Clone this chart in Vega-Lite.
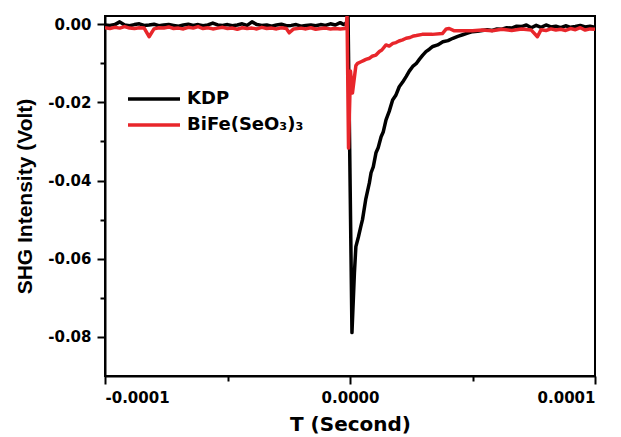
{
  "$schema": "https://vega.github.io/schema/vega-lite/v6.json",
  "width": 490,
  "height": 360,
  "autosize": {"type": "none"},
  "padding": {"left": 105, "top": 16, "right": 26, "bottom": 61},
  "background": "white",
  "config": {
    "view": {"stroke": "black", "strokeWidth": 2},
    "font": "DejaVu Sans",
    "axis": {
      "grid": false,
      "domainColor": "black",
      "domainWidth": 2,
      "tickColor": "black",
      "tickWidth": 2,
      "labelColor": "black",
      "titleColor": "black",
      "labelFont": "DejaVu Sans",
      "labelFontWeight": "bold",
      "labelFontSize": 15,
      "titleFontWeight": "bold"
    }
  },
  "data": {
    "values": [
      {"t": -0.0001, "v": -0.0002, "s": "KDP"},
      {"t": -9.8e-5, "v": -0.0003, "s": "KDP"},
      {"t": -9.6e-5, "v": -0.0001, "s": "KDP"},
      {"t": -9.4e-5, "v": 0.0006, "s": "KDP"},
      {"t": -9.2e-5, "v": -0.0002, "s": "KDP"},
      {"t": -9.0e-5, "v": -0.0004, "s": "KDP"},
      {"t": -8.8e-5, "v": -0.0001, "s": "KDP"},
      {"t": -8.6e-5, "v": 0.0001, "s": "KDP"},
      {"t": -8.4e-5, "v": -0.0003, "s": "KDP"},
      {"t": -8.2e-5, "v": -0.0002, "s": "KDP"},
      {"t": -8.0e-5, "v": 0.0, "s": "KDP"},
      {"t": -7.8e-5, "v": -0.0004, "s": "KDP"},
      {"t": -7.6e-5, "v": -0.0002, "s": "KDP"},
      {"t": -7.4e-5, "v": -0.0001, "s": "KDP"},
      {"t": -7.2e-5, "v": -0.0003, "s": "KDP"},
      {"t": -7.0e-5, "v": -0.0005, "s": "KDP"},
      {"t": -6.8e-5, "v": -0.0002, "s": "KDP"},
      {"t": -6.6e-5, "v": 0.0, "s": "KDP"},
      {"t": -6.4e-5, "v": -0.0003, "s": "KDP"},
      {"t": -6.2e-5, "v": -0.0001, "s": "KDP"},
      {"t": -6.0e-5, "v": -0.0004, "s": "KDP"},
      {"t": -5.8e-5, "v": -0.0002, "s": "KDP"},
      {"t": -5.6e-5, "v": 0.0003, "s": "KDP"},
      {"t": -5.4e-5, "v": -0.0002, "s": "KDP"},
      {"t": -5.2e-5, "v": -0.0003, "s": "KDP"},
      {"t": -5.0e-5, "v": -0.0001, "s": "KDP"},
      {"t": -4.8e-5, "v": -0.0004, "s": "KDP"},
      {"t": -4.6e-5, "v": -0.0002, "s": "KDP"},
      {"t": -4.4e-5, "v": 0.0001, "s": "KDP"},
      {"t": -4.2e-5, "v": -0.0003, "s": "KDP"},
      {"t": -4.0e-5, "v": 0.0006, "s": "KDP"},
      {"t": -3.8e-5, "v": -0.0001, "s": "KDP"},
      {"t": -3.6e-5, "v": -0.0003, "s": "KDP"},
      {"t": -3.4e-5, "v": -0.0002, "s": "KDP"},
      {"t": -3.2e-5, "v": -0.0005, "s": "KDP"},
      {"t": -3.0e-5, "v": -0.0002, "s": "KDP"},
      {"t": -2.8e-5, "v": 0.0, "s": "KDP"},
      {"t": -2.6e-5, "v": -0.0004, "s": "KDP"},
      {"t": -2.4e-5, "v": -0.0003, "s": "KDP"},
      {"t": -2.2e-5, "v": -0.0001, "s": "KDP"},
      {"t": -2.0e-5, "v": -0.0005, "s": "KDP"},
      {"t": -1.8e-5, "v": -0.0003, "s": "KDP"},
      {"t": -1.6e-5, "v": -0.0002, "s": "KDP"},
      {"t": -1.4e-5, "v": -0.0004, "s": "KDP"},
      {"t": -1.2e-5, "v": -0.0001, "s": "KDP"},
      {"t": -1.0e-5, "v": -0.0003, "s": "KDP"},
      {"t": -8.0e-6, "v": 0.0001, "s": "KDP"},
      {"t": -6.0e-6, "v": -0.0002, "s": "KDP"},
      {"t": -4.0e-6, "v": 0.0004, "s": "KDP"},
      {"t": -2.5e-6, "v": -0.0001, "s": "KDP"},
      {"t": -1.5e-6, "v": 0.0003, "s": "KDP"},
      {"t": -8.0e-7, "v": 0.0021, "s": "KDP"},
      {"t": 8.0e-7, "v": -0.0789, "s": "KDP"},
      {"t": 1.8e-6, "v": -0.0636, "s": "KDP"},
      {"t": 2.4e-6, "v": -0.0569, "s": "KDP"},
      {"t": 3.4e-6, "v": -0.0545, "s": "KDP"},
      {"t": 4.4e-6, "v": -0.0518, "s": "KDP"},
      {"t": 5.1e-6, "v": -0.05, "s": "KDP"},
      {"t": 6.4e-6, "v": -0.0449, "s": "KDP"},
      {"t": 7.9e-6, "v": -0.0406, "s": "KDP"},
      {"t": 8.6e-6, "v": -0.038, "s": "KDP"},
      {"t": 9.5e-6, "v": -0.0365, "s": "KDP"},
      {"t": 1.06e-5, "v": -0.0329, "s": "KDP"},
      {"t": 1.15e-5, "v": -0.0316, "s": "KDP"},
      {"t": 1.27e-5, "v": -0.0288, "s": "KDP"},
      {"t": 1.36e-5, "v": -0.0275, "s": "KDP"},
      {"t": 1.47e-5, "v": -0.0245, "s": "KDP"},
      {"t": 1.6e-5, "v": -0.0223, "s": "KDP"},
      {"t": 1.74e-5, "v": -0.0194, "s": "KDP"},
      {"t": 1.87e-5, "v": -0.0182, "s": "KDP"},
      {"t": 2.01e-5, "v": -0.016, "s": "KDP"},
      {"t": 2.15e-5, "v": -0.0148, "s": "KDP"},
      {"t": 2.29e-5, "v": -0.0134, "s": "KDP"},
      {"t": 2.42e-5, "v": -0.012, "s": "KDP"},
      {"t": 2.56e-5, "v": -0.0108, "s": "KDP"},
      {"t": 2.7e-5, "v": -0.0101, "s": "KDP"},
      {"t": 2.83e-5, "v": -0.009, "s": "KDP"},
      {"t": 2.97e-5, "v": -0.0079, "s": "KDP"},
      {"t": 3.1e-5, "v": -0.007, "s": "KDP"},
      {"t": 3.24e-5, "v": -0.0064, "s": "KDP"},
      {"t": 3.38e-5, "v": -0.0057, "s": "KDP"},
      {"t": 3.58e-5, "v": -0.0053, "s": "KDP"},
      {"t": 3.79e-5, "v": -0.0045, "s": "KDP"},
      {"t": 4.0e-5, "v": -0.0042, "s": "KDP"},
      {"t": 4.2e-5, "v": -0.0036, "s": "KDP"},
      {"t": 4.4e-5, "v": -0.0031, "s": "KDP"},
      {"t": 4.6e-5, "v": -0.0027, "s": "KDP"},
      {"t": 4.8e-5, "v": -0.0023, "s": "KDP"},
      {"t": 5.0e-5, "v": -0.0019, "s": "KDP"},
      {"t": 5.2e-5, "v": -0.0018, "s": "KDP"},
      {"t": 5.4e-5, "v": -0.0016, "s": "KDP"},
      {"t": 5.6e-5, "v": -0.0014, "s": "KDP"},
      {"t": 5.8e-5, "v": -0.0016, "s": "KDP"},
      {"t": 6.0e-5, "v": -0.0012, "s": "KDP"},
      {"t": 6.2e-5, "v": -0.0013, "s": "KDP"},
      {"t": 6.4e-5, "v": -0.0009, "s": "KDP"},
      {"t": 6.6e-5, "v": -0.001, "s": "KDP"},
      {"t": 6.8e-5, "v": -0.0005, "s": "KDP"},
      {"t": 7.0e-5, "v": -0.0006, "s": "KDP"},
      {"t": 7.2e-5, "v": -0.0002, "s": "KDP"},
      {"t": 7.4e-5, "v": -0.0009, "s": "KDP"},
      {"t": 7.6e-5, "v": -0.0003, "s": "KDP"},
      {"t": 7.8e-5, "v": -0.0008, "s": "KDP"},
      {"t": 8.0e-5, "v": -0.0002, "s": "KDP"},
      {"t": 8.2e-5, "v": -0.0007, "s": "KDP"},
      {"t": 8.4e-5, "v": -0.0005, "s": "KDP"},
      {"t": 8.6e-5, "v": -0.0009, "s": "KDP"},
      {"t": 8.8e-5, "v": -0.0004, "s": "KDP"},
      {"t": 9.0e-5, "v": -0.0008, "s": "KDP"},
      {"t": 9.2e-5, "v": -0.0006, "s": "KDP"},
      {"t": 9.4e-5, "v": -0.0003, "s": "KDP"},
      {"t": 9.6e-5, "v": -0.0007, "s": "KDP"},
      {"t": 9.8e-5, "v": -0.0005, "s": "KDP"},
      {"t": 0.0001, "v": -0.0008, "s": "KDP"},

      {"t": -0.0001, "v": -0.0009, "s": "BiFe(SeO₃)₃"},
      {"t": -9.8e-5, "v": -0.0011, "s": "BiFe(SeO₃)₃"},
      {"t": -9.6e-5, "v": -0.0008, "s": "BiFe(SeO₃)₃"},
      {"t": -9.4e-5, "v": -0.001, "s": "BiFe(SeO₃)₃"},
      {"t": -9.2e-5, "v": -0.0006, "s": "BiFe(SeO₃)₃"},
      {"t": -9.0e-5, "v": -0.001, "s": "BiFe(SeO₃)₃"},
      {"t": -8.8e-5, "v": -0.0011, "s": "BiFe(SeO₃)₃"},
      {"t": -8.6e-5, "v": -0.0009, "s": "BiFe(SeO₃)₃"},
      {"t": -8.4e-5, "v": -0.001, "s": "BiFe(SeO₃)₃"},
      {"t": -8.2e-5, "v": -0.0032, "s": "BiFe(SeO₃)₃"},
      {"t": -8.0e-5, "v": -0.0012, "s": "BiFe(SeO₃)₃"},
      {"t": -7.8e-5, "v": -0.0009, "s": "BiFe(SeO₃)₃"},
      {"t": -7.6e-5, "v": -0.001, "s": "BiFe(SeO₃)₃"},
      {"t": -7.4e-5, "v": -0.0007, "s": "BiFe(SeO₃)₃"},
      {"t": -7.2e-5, "v": -0.0011, "s": "BiFe(SeO₃)₃"},
      {"t": -7.0e-5, "v": -0.001, "s": "BiFe(SeO₃)₃"},
      {"t": -6.8e-5, "v": -0.0012, "s": "BiFe(SeO₃)₃"},
      {"t": -6.6e-5, "v": -0.0008, "s": "BiFe(SeO₃)₃"},
      {"t": -6.4e-5, "v": -0.001, "s": "BiFe(SeO₃)₃"},
      {"t": -6.2e-5, "v": -0.0006, "s": "BiFe(SeO₃)₃"},
      {"t": -6.0e-5, "v": -0.0011, "s": "BiFe(SeO₃)₃"},
      {"t": -5.8e-5, "v": -0.0009, "s": "BiFe(SeO₃)₃"},
      {"t": -5.6e-5, "v": -0.0012, "s": "BiFe(SeO₃)₃"},
      {"t": -5.4e-5, "v": -0.001, "s": "BiFe(SeO₃)₃"},
      {"t": -5.2e-5, "v": -0.0008, "s": "BiFe(SeO₃)₃"},
      {"t": -5.0e-5, "v": -0.0011, "s": "BiFe(SeO₃)₃"},
      {"t": -4.8e-5, "v": -0.001, "s": "BiFe(SeO₃)₃"},
      {"t": -4.6e-5, "v": -0.0013, "s": "BiFe(SeO₃)₃"},
      {"t": -4.4e-5, "v": -0.0009, "s": "BiFe(SeO₃)₃"},
      {"t": -4.2e-5, "v": -0.0011, "s": "BiFe(SeO₃)₃"},
      {"t": -4.0e-5, "v": -0.001, "s": "BiFe(SeO₃)₃"},
      {"t": -3.8e-5, "v": -0.0012, "s": "BiFe(SeO₃)₃"},
      {"t": -3.6e-5, "v": -0.0008, "s": "BiFe(SeO₃)₃"},
      {"t": -3.4e-5, "v": -0.0011, "s": "BiFe(SeO₃)₃"},
      {"t": -3.2e-5, "v": -0.001, "s": "BiFe(SeO₃)₃"},
      {"t": -3.0e-5, "v": -0.0012, "s": "BiFe(SeO₃)₃"},
      {"t": -2.8e-5, "v": -0.0009, "s": "BiFe(SeO₃)₃"},
      {"t": -2.6e-5, "v": -0.0011, "s": "BiFe(SeO₃)₃"},
      {"t": -2.48e-5, "v": -0.0022, "s": "BiFe(SeO₃)₃"},
      {"t": -2.3e-5, "v": -0.0012, "s": "BiFe(SeO₃)₃"},
      {"t": -2.0e-5, "v": -0.001, "s": "BiFe(SeO₃)₃"},
      {"t": -1.8e-5, "v": -0.0012, "s": "BiFe(SeO₃)₃"},
      {"t": -1.6e-5, "v": -0.0009, "s": "BiFe(SeO₃)₃"},
      {"t": -1.4e-5, "v": -0.0013, "s": "BiFe(SeO₃)₃"},
      {"t": -1.2e-5, "v": -0.0011, "s": "BiFe(SeO₃)₃"},
      {"t": -1.0e-5, "v": -0.001, "s": "BiFe(SeO₃)₃"},
      {"t": -8.0e-6, "v": -0.0012, "s": "BiFe(SeO₃)₃"},
      {"t": -6.0e-6, "v": -0.0011, "s": "BiFe(SeO₃)₃"},
      {"t": -4.0e-6, "v": -0.0012, "s": "BiFe(SeO₃)₃"},
      {"t": -2.0e-6, "v": -0.0011, "s": "BiFe(SeO₃)₃"},
      {"t": -1.6e-6, "v": -0.001, "s": "BiFe(SeO₃)₃"},
      {"t": -1.2e-6, "v": 0.002, "s": "BiFe(SeO₃)₃"},
      {"t": -6.0e-7, "v": -0.0317, "s": "BiFe(SeO₃)₃"},
      {"t": 2.0e-7, "v": -0.012, "s": "BiFe(SeO₃)₃"},
      {"t": 1.0e-6, "v": -0.0176, "s": "BiFe(SeO₃)₃"},
      {"t": 2.4e-6, "v": -0.0106, "s": "BiFe(SeO₃)₃"},
      {"t": 3.1e-6, "v": -0.01, "s": "BiFe(SeO₃)₃"},
      {"t": 4.5e-6, "v": -0.0096, "s": "BiFe(SeO₃)₃"},
      {"t": 5.5e-6, "v": -0.0093, "s": "BiFe(SeO₃)₃"},
      {"t": 6.5e-6, "v": -0.009, "s": "BiFe(SeO₃)₃"},
      {"t": 8.0e-6, "v": -0.0087, "s": "BiFe(SeO₃)₃"},
      {"t": 9.0e-6, "v": -0.0082, "s": "BiFe(SeO₃)₃"},
      {"t": 1.06e-5, "v": -0.0079, "s": "BiFe(SeO₃)₃"},
      {"t": 1.2e-5, "v": -0.007, "s": "BiFe(SeO₃)₃"},
      {"t": 1.3e-5, "v": -0.0066, "s": "BiFe(SeO₃)₃"},
      {"t": 1.47e-5, "v": -0.0053, "s": "BiFe(SeO₃)₃"},
      {"t": 1.6e-5, "v": -0.0056, "s": "BiFe(SeO₃)₃"},
      {"t": 1.75e-5, "v": -0.0049, "s": "BiFe(SeO₃)₃"},
      {"t": 1.88e-5, "v": -0.0047, "s": "BiFe(SeO₃)₃"},
      {"t": 2.0e-5, "v": -0.0043, "s": "BiFe(SeO₃)₃"},
      {"t": 2.15e-5, "v": -0.004, "s": "BiFe(SeO₃)₃"},
      {"t": 2.29e-5, "v": -0.0036, "s": "BiFe(SeO₃)₃"},
      {"t": 2.45e-5, "v": -0.0034, "s": "BiFe(SeO₃)₃"},
      {"t": 2.6e-5, "v": -0.003, "s": "BiFe(SeO₃)₃"},
      {"t": 2.71e-5, "v": -0.0029, "s": "BiFe(SeO₃)₃"},
      {"t": 2.95e-5, "v": -0.0026, "s": "BiFe(SeO₃)₃"},
      {"t": 3.36e-5, "v": -0.0026, "s": "BiFe(SeO₃)₃"},
      {"t": 3.77e-5, "v": -0.0024, "s": "BiFe(SeO₃)₃"},
      {"t": 3.93e-5, "v": -0.0012, "s": "BiFe(SeO₃)₃"},
      {"t": 4.05e-5, "v": -0.0011, "s": "BiFe(SeO₃)₃"},
      {"t": 4.26e-5, "v": -0.0017, "s": "BiFe(SeO₃)₃"},
      {"t": 5.0e-5, "v": -0.0017, "s": "BiFe(SeO₃)₃"},
      {"t": 5.4e-5, "v": -0.0015, "s": "BiFe(SeO₃)₃"},
      {"t": 5.8e-5, "v": -0.0017, "s": "BiFe(SeO₃)₃"},
      {"t": 6.2e-5, "v": -0.0013, "s": "BiFe(SeO₃)₃"},
      {"t": 6.6e-5, "v": -0.0016, "s": "BiFe(SeO₃)₃"},
      {"t": 7.0e-5, "v": -0.0012, "s": "BiFe(SeO₃)₃"},
      {"t": 7.4e-5, "v": -0.0015, "s": "BiFe(SeO₃)₃"},
      {"t": 7.65e-5, "v": -0.0032, "s": "BiFe(SeO₃)₃"},
      {"t": 7.8e-5, "v": -0.0014, "s": "BiFe(SeO₃)₃"},
      {"t": 8.0e-5, "v": -0.0016, "s": "BiFe(SeO₃)₃"},
      {"t": 8.2e-5, "v": -0.0012, "s": "BiFe(SeO₃)₃"},
      {"t": 8.4e-5, "v": -0.0015, "s": "BiFe(SeO₃)₃"},
      {"t": 8.6e-5, "v": -0.0013, "s": "BiFe(SeO₃)₃"},
      {"t": 8.8e-5, "v": -0.0016, "s": "BiFe(SeO₃)₃"},
      {"t": 9.0e-5, "v": -0.0011, "s": "BiFe(SeO₃)₃"},
      {"t": 9.2e-5, "v": -0.0014, "s": "BiFe(SeO₃)₃"},
      {"t": 9.4e-5, "v": -0.0009, "s": "BiFe(SeO₃)₃"},
      {"t": 9.6e-5, "v": -0.0015, "s": "BiFe(SeO₃)₃"},
      {"t": 9.8e-5, "v": -0.0012, "s": "BiFe(SeO₃)₃"},
      {"t": 0.0001, "v": -0.0013, "s": "BiFe(SeO₃)₃"}
    ]
  },
  "mark": {"type": "line", "strokeWidth": 3.5, "clip": true, "strokeJoin": "round"},
  "encoding": {
    "x": {
      "field": "t",
      "type": "quantitative",
      "scale": {"domain": [-0.0001, 0.0001], "nice": false, "zero": false},
      "axis": {
        "title": "T (Second)",
        "titleFont": "DejaVu Sans",
        "titleFontSize": 20,
        "titlePadding": 9,
        "values": [-0.0001, -0.00005, 0, 0.00005, 0.0001],
        "format": ".4f",
        "labelExpr": "abs(abs(datum.value) - 0.0001) < 1e-9 || abs(datum.value) < 1e-9 ? replace(datum.label, '−', '-') : ''",
        "labelPadding": 6,
        "tickSize": {"condition": {"test": "abs(abs(datum.value) - 0.00005) < 1e-9", "value": 5}, "value": 8}
      }
    },
    "y": {
      "field": "v",
      "type": "quantitative",
      "scale": {"domain": [-0.09, 0.0021], "nice": false, "zero": false},
      "axis": {
        "title": "SHG Intensity (Volt)",
        "titleFont": "Liberation Sans",
        "titleFontSize": 21,
        "titlePadding": 12,
        "values": [0, -0.01, -0.02, -0.03, -0.04, -0.05, -0.06, -0.07, -0.08],
        "format": ".2f",
        "labelExpr": "abs(round(datum.value * 100) % 2) == 0 ? replace(datum.label, '−', '-') : ''",
        "labelPadding": 6,
        "tickSize": {"condition": {"test": "abs(round(datum.value * 100) % 2) == 1", "value": 5}, "value": 8}
      }
    },
    "color": {
      "field": "s",
      "type": "nominal",
      "scale": {"domain": ["KDP", "BiFe(SeO₃)₃"], "range": ["#000000", "#e8262b"]},
      "legend": {
        "title": null,
        "orient": "none",
        "legendX": 21,
        "legendY": 71,
        "padding": 0,
        "clipHeight": 24,
        "rowPadding": 2,
        "symbolType": "stroke",
        "symbolSize": 2704,
        "symbolStrokeWidth": 3.5,
        "labelFont": "DejaVu Sans",
        "labelFontWeight": "bold",
        "labelFontSize": 18,
        "labelColor": "black",
        "labelOffset": 5
      }
    }
  }
}
